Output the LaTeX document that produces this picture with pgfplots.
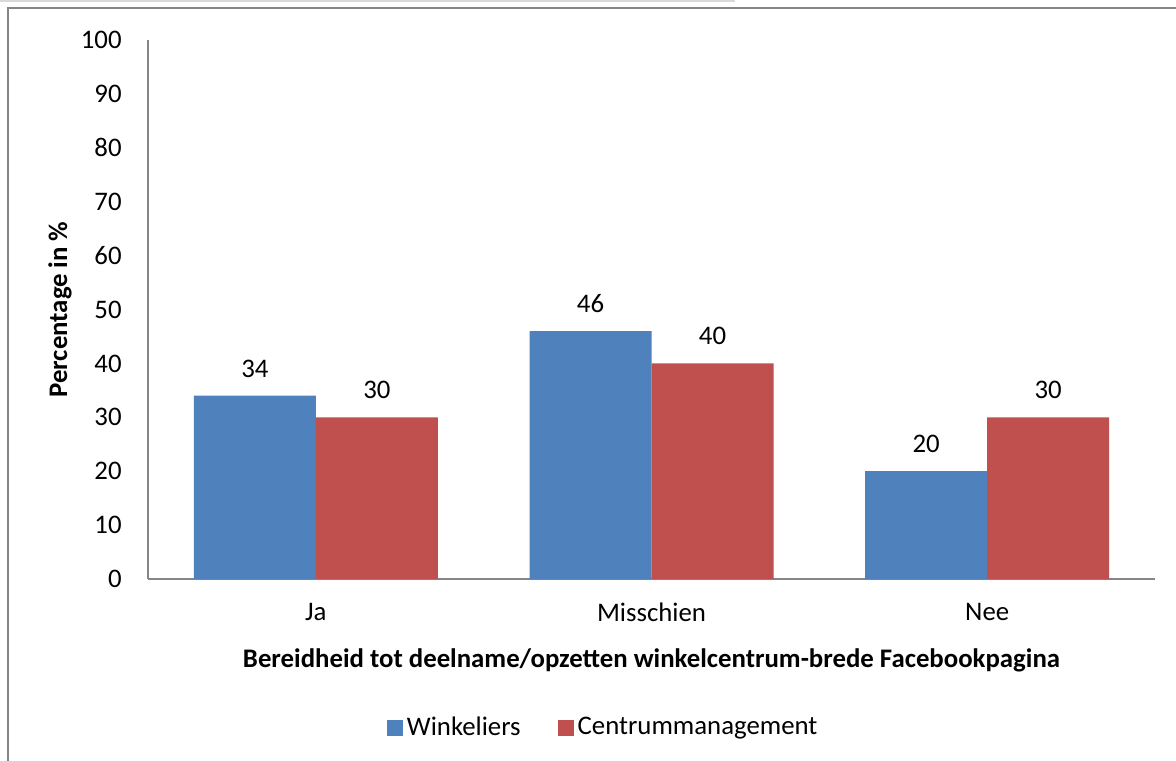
\documentclass[border=0pt]{standalone}
\usepackage{pgfplots}
\pgfplotsset{compat=1.18}
\usepackage{fontspec}
\setmainfont{Carlito}
\definecolor{cblue}{RGB}{79,129,189}
\definecolor{cred}{RGB}{192,80,77}
\definecolor{framegray}{RGB}{134,134,134}
\definecolor{axgray}{RGB}{134,134,134}
\newcommand{\fs}{\fontsize{13.4}{16}\selectfont}
\begin{document}
\fs
\begin{tikzpicture}
\useasboundingbox (0,0) rectangle (588pt,380pt);
\fill[white] (0,0) rectangle (588pt,380pt);
\fill[black!15] (0,379pt) rectangle (367.5pt,380pt);
\draw[framegray, line width=1pt] (4pt,-2pt) -- (4pt,376pt) -- (590pt,376pt);
\begin{axis}[
  at={(74pt,90.5pt)}, anchor=south west,
  scale only axis, width=503.5pt, height=269.5pt,
  xmin=-0.5, xmax=2.5, ymin=0, ymax=100,
  xtick={0,1,2}, xticklabels={Ja,Misschien,Nee},
  ytick={0,10,...,100},
  major tick length=0pt,
  axis x line*=bottom, axis y line*=left,
  axis line style={axgray, line width=0.75pt, -},
  /pgf/number format/assume math mode=true,
  tick label style={font=\fs, black},
  yticklabel style={inner sep=0pt, anchor=east, xshift=-13pt},
  xticklabel style={inner sep=0pt, anchor=center, yshift=-16.5pt},
  ybar, bar width=61pt,
  nodes near coords,
  every node near coord/.append style={font=\fs, black, inner sep=0pt, anchor=south, yshift=9pt},
  legend style={at={(0.453,-0.2764)}, anchor=center, draw=none, fill=none,
    legend columns=2, font=\fs,
    /tikz/every even column/.append style={column sep=16.5pt}},
  legend cell align=left,
  clip=false,
]
\addplot[draw=none, fill=cblue, bar shift=-30.5pt,
  legend image code/.code={\fill[cblue] (-1pt,-4pt) rectangle (7pt,4pt);}]
  coordinates {(0,34) (1,46) (2,20)};
\addplot[draw=none, fill=cred, bar shift=30.5pt,
  legend image code/.code={\fill[cred] (-1pt,-4pt) rectangle (7pt,4pt);}]
  coordinates {(0,30) (1,40) (2,30)};
\legend{Winkeliers, Centrummanagement}
\end{axis}
\node[font=\fs\bfseries, rotate=90] at (30pt,225.25pt) {Percentage in \%};
\node[font=\fs\bfseries] at (325.75pt,50pt) {Bereidheid tot deelname/opzetten winkelcentrum-brede Facebookpagina};
\end{tikzpicture}
\end{document}
